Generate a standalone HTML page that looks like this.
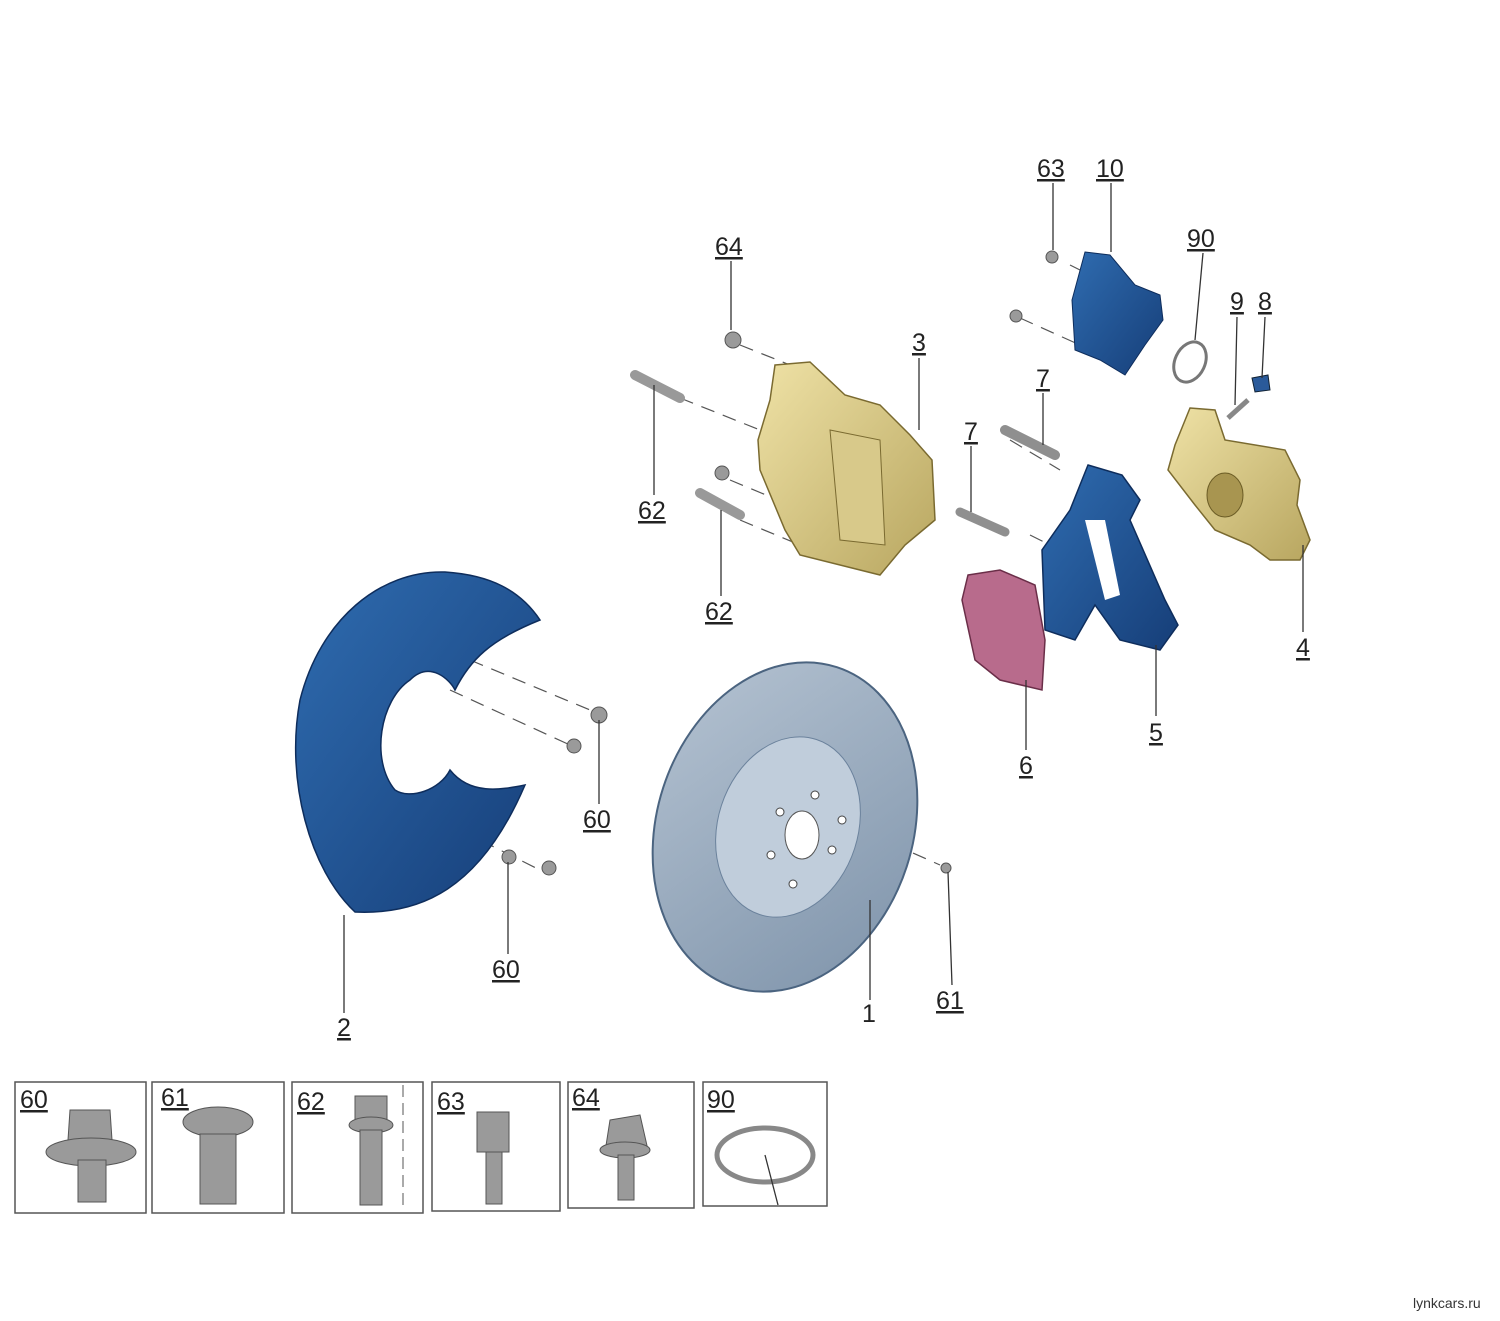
<!DOCTYPE html>
<html><head><meta charset="utf-8"><style>
html,body{margin:0;padding:0;background:#fff;}
svg{display:block;}
text{font-family:"Liberation Sans",sans-serif;font-size:25px;fill:#222;text-decoration:underline;}
.l{stroke:#333;stroke-width:1.3;fill:none;}
.d{stroke:#555;stroke-width:1.2;stroke-dasharray:14 9;fill:none;}
.bx{fill:#fff;stroke:#555;stroke-width:1.5;}
.bolt{fill:#9a9a9a;stroke:#555;stroke-width:1;}
</style></head><body>
<svg width="1500" height="1321" viewBox="0 0 1500 1321" xmlns="http://www.w3.org/2000/svg">
<defs>
<linearGradient id="blue" x1="0" y1="0" x2="1" y2="1"><stop offset="0" stop-color="#2f6cb0"/><stop offset="1" stop-color="#163e78"/></linearGradient>
<linearGradient id="disc" x1="0" y1="0" x2="1" y2="1"><stop offset="0" stop-color="#b5c3d2"/><stop offset="1" stop-color="#7e93aa"/></linearGradient>
<linearGradient id="yel" x1="0" y1="0" x2="1" y2="1"><stop offset="0" stop-color="#efe2a6"/><stop offset="1" stop-color="#b8a660"/></linearGradient>
</defs>

<path class="d" d="M680 398 L760 430 M740 345 L790 365 M730 480 L790 505 M740 520 L800 545 M1020 318 L1080 345 M1070 265 L1100 280 M1010 440 L1060 470 M1030 535 L1060 550 M470 660 L590 710 M450 690 L570 745 M440 820 L540 870 M850 825 L940 865"/>

<path d="M445 572 C380 570 320 620 300 700 C285 780 310 870 355 912 C420 915 480 890 525 785 C500 790 470 795 450 770 C440 790 410 800 395 790 C370 760 380 700 410 680 C430 660 450 680 455 690 C470 660 490 640 540 620 C520 590 490 575 445 572 Z" fill="url(#blue)" stroke="#0e2d5c" stroke-width="1.5"/>
<path class="l" d="M344 915 L344 1013"/>

<ellipse cx="785" cy="827" rx="128" ry="168" fill="url(#disc)" stroke="#4b6480" stroke-width="2" transform="rotate(18 785 827)"/>
<ellipse cx="788" cy="827" rx="70" ry="92" fill="#c0cddb" stroke="#6b829c" transform="rotate(18 788 827)"/>
<ellipse cx="802" cy="835" rx="17" ry="24" fill="#fff" stroke="#555"/>
<g fill="#fff" stroke="#444"><circle cx="815" cy="795" r="4"/><circle cx="842" cy="820" r="4"/><circle cx="832" cy="850" r="4"/><circle cx="793" cy="884" r="4"/><circle cx="771" cy="855" r="4"/><circle cx="780" cy="812" r="4"/></g>
<path class="l" d="M870 900 L870 1000"/>

<path d="M775 365 L810 362 L845 395 L880 405 L910 435 L932 460 L935 520 L905 545 L880 575 L860 570 L800 555 L785 530 L760 470 L758 440 L770 400 Z" fill="url(#yel)" stroke="#7a6a30" stroke-width="1.5"/>
<path d="M830 430 L880 440 L885 545 L840 540 Z" fill="#d8c98a" stroke="#7a6a30"/>
<path class="l" d="M919 358 L919 430"/>

<path d="M1085 252 L1110 255 L1135 285 L1160 295 L1163 320 L1145 345 L1125 375 L1100 360 L1075 350 L1072 300 Z" fill="url(#blue)" stroke="#0e2d5c"/>
<path class="l" d="M1111 183 L1111 252"/>
<ellipse cx="1190" cy="362" rx="15" ry="21" fill="none" stroke="#777" stroke-width="3" transform="rotate(25 1190 362)"/>
<path class="l" d="M1203 253 L1195 340"/>

<path d="M1190 408 L1215 410 L1225 440 L1285 450 L1300 480 L1297 505 L1310 540 L1300 560 L1270 560 L1250 545 L1215 530 L1195 505 L1168 470 L1175 445 Z" fill="url(#yel)" stroke="#7a6a30" stroke-width="1.5"/>
<ellipse cx="1225" cy="495" rx="18" ry="22" fill="#a89550" stroke="#6b5c25"/>
<path class="l" d="M1303 545 L1303 632"/>
<path d="M1252 378 L1268 375 L1270 390 L1255 392 Z" fill="#2a5a9a" stroke="#123"/>
<path d="M1228 418 L1248 400" stroke="#888" stroke-width="5"/>
<path class="l" d="M1265 317 L1262 378 M1237 317 L1235 405"/>

<path d="M1088 465 L1122 475 L1140 500 L1130 520 L1165 600 L1178 625 L1160 650 L1120 640 L1095 605 L1075 640 L1045 630 L1042 550 L1070 510 Z" fill="url(#blue)" stroke="#0e2d5c" stroke-width="1.5"/>
<path d="M1085 520 L1105 600 L1120 595 L1105 520 Z" fill="#fff"/>
<path class="l" d="M1156 645 L1156 716"/>

<path d="M968 575 L1000 570 L1035 585 L1045 640 L1042 690 L1000 680 L975 660 L962 600 Z" fill="#b86b8c" stroke="#6a2e48" stroke-width="1.5"/>
<path class="l" d="M1026 680 L1026 750"/>

<path d="M1005 430 L1055 455" stroke="#8f8f8f" stroke-width="10" stroke-linecap="round"/>
<path d="M960 512 L1005 532" stroke="#8f8f8f" stroke-width="9" stroke-linecap="round"/>
<path class="l" d="M1043 393 L1043 445 M971 446 L971 512"/>

<path d="M635 375 L680 398" stroke="#999" stroke-width="10" stroke-linecap="round"/>
<path d="M700 493 L740 515" stroke="#999" stroke-width="10" stroke-linecap="round"/>
<circle cx="733" cy="340" r="8" class="bolt"/><circle cx="722" cy="473" r="7" class="bolt"/>
<circle cx="1052" cy="257" r="6" class="bolt"/><circle cx="1016" cy="316" r="6" class="bolt"/>
<circle cx="599" cy="715" r="8" class="bolt"/><circle cx="574" cy="746" r="7" class="bolt"/>
<circle cx="509" cy="857" r="7" class="bolt"/><circle cx="549" cy="868" r="7" class="bolt"/>
<circle cx="946" cy="868" r="5" class="bolt"/>
<path class="l" d="M731 261 L731 330 M654 495 L654 385 M721 596 L721 510 M599 804 L599 720 M508 954 L508 862 M952 985 L948 872 M1053 183 L1053 250"/>

<text x="1037" y="177">63</text><text x="1096" y="177">10</text>
<text x="715" y="255">64</text><text x="1187" y="247">90</text>
<text x="1230" y="310">9</text><text x="1258" y="310">8</text>
<text x="912" y="351">3</text><text x="1036" y="387">7</text><text x="964" y="440">7</text>
<text x="638" y="519">62</text><text x="705" y="620">62</text>
<text x="1296" y="656">4</text><text x="1149" y="741">5</text><text x="1019" y="774">6</text>
<text x="583" y="828">60</text><text x="492" y="978">60</text><text x="936" y="1009">61</text>
<text x="337" y="1036">2</text><text x="862" y="1022" style="text-decoration:none">1</text>

<rect class="bx" x="15" y="1082" width="131" height="131"/>
<rect class="bx" x="152" y="1082" width="132" height="131"/>
<rect class="bx" x="292" y="1082" width="131" height="131"/>
<rect class="bx" x="432" y="1082" width="128" height="129"/>
<rect class="bx" x="568" y="1082" width="126" height="126"/>
<rect class="bx" x="703" y="1082" width="124" height="124"/>
<text x="20" y="1108">60</text><text x="161" y="1106">61</text><text x="297" y="1110">62</text>
<text x="437" y="1110">63</text><text x="572" y="1106">64</text><text x="707" y="1108">90</text>
<path class="bolt" d="M70 1110 L110 1110 L112 1140 L68 1140 Z"/><ellipse cx="91" cy="1152" rx="45" ry="14" class="bolt"/><rect x="78" y="1160" width="28" height="42" class="bolt"/>
<ellipse cx="218" cy="1122" rx="35" ry="15" class="bolt"/><rect x="200" y="1134" width="36" height="70" class="bolt"/>
<rect x="355" y="1096" width="32" height="26" class="bolt"/><ellipse cx="371" cy="1125" rx="22" ry="8" class="bolt"/><rect x="360" y="1130" width="22" height="75" class="bolt"/>
<path d="M403 1085 L403 1210" stroke="#555" stroke-dasharray="12 6"/>
<rect x="477" y="1112" width="32" height="40" class="bolt"/><rect x="486" y="1152" width="16" height="52" class="bolt"/>
<path class="bolt" d="M610 1120 L640 1115 L648 1150 L605 1152 Z"/><ellipse cx="625" cy="1150" rx="25" ry="8" class="bolt"/><rect x="618" y="1155" width="16" height="45" class="bolt"/>
<ellipse cx="765" cy="1155" rx="48" ry="27" fill="none" stroke="#888" stroke-width="5"/>
<path class="l" d="M765 1155 L778 1205"/>

<text x="1413" y="1308" style="font-size:14px;text-decoration:none;fill:#333">lynkcars.ru</text>
</svg>
</body></html>
